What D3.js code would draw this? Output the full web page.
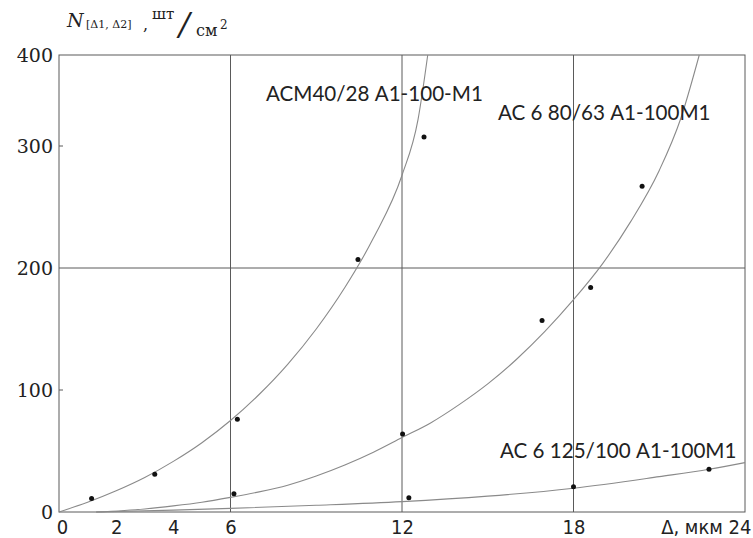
<!DOCTYPE html>
<html>
<head>
<meta charset="utf-8">
<script src="https://cdn.jsdelivr.net/npm/d3@7"></script>
<style>
  html, body { margin: 0; padding: 0; background: #fff; }
  svg { display: block; }
</style>
</head>
<body>
<svg id="chart" width="753" height="538"></svg>
<script>
// Axis ticks
const xTickValues = [0, 2, 4, 6, 12, 18, 24];
const xGridValues = [6, 12, 18];
const yTickValues = [0, 100, 200, 300, 400];
const yGridValues = [200];

// Series names
const seriesNames = ["АСМ40/28 А1-100-М1", "АС 6 80/63 А1-100М1", "АС 6 125/100 А1-100М1"];

// Measured points (Δ, мкм ; N, шт/см²)
const ptsDelta1 = [1.14, 3.35, 6.24, 10.46, 12.77];
const ptsN1     = [11, 31, 76, 207, 310];
const ptsDelta2 = [6.12, 12.02, 16.9, 18.6, 20.4];
const ptsN2     = [15, 64, 157, 184, 267];
const ptsDelta3 = [12.24, 18.0, 22.74];
const ptsN3     = [11.7, 20.7, 35];

// Approximating curves
const fitDelta1 = [0, 1, 2, 3, 4, 5, 6, 7, 8, 9, 10, 11, 12, 12.56, 12.9];
const fitN1     = [0, 8, 17.4, 28.3, 41.5, 56.8, 75, 96.3, 121, 150, 184, 224.5, 276, 329, 400];
const fitDelta2 = [1.3, 3, 4, 5, 6, 7, 8, 9, 10, 11, 12, 13, 14, 15, 16, 17, 18, 19, 20, 21, 21.75, 22.4];
const fitN2     = [0, 2.5, 5, 8, 12, 16.5, 22, 29.5, 38.5, 49, 61, 73, 88, 105, 125, 148, 174, 203, 238, 280, 330, 400];
const fitDelta3 = [1.3, 4, 6, 9, 12, 15, 18, 21, 22.74, 24];
const fitN3     = [0, 1.5, 3, 5.5, 8.5, 13, 19.5, 29, 35, 40.5];

const svg = d3.select("#chart");

const x = d3.scaleLinear().domain([0, 24]).range([59, 745]);
const y = d3.scaleLinear().domain([0, 300, 400]).range([512, 146, 55]);

const gridColor = "#5a5a5a";
const curveColor = "#8a8a8a";
const textColor = "#222";

// Grid lines
svg.append("g").selectAll("line").data(xGridValues).join("line")
  .attr("x1", d => x(d)).attr("x2", d => x(d))
  .attr("y1", y(0)).attr("y2", y(400))
  .attr("stroke", gridColor).attr("stroke-width", 1);
svg.append("g").selectAll("line").data(yGridValues).join("line")
  .attr("x1", x(0)).attr("x2", x(24))
  .attr("y1", d => y(d)).attr("y2", d => y(d))
  .attr("stroke", gridColor).attr("stroke-width", 1);

// Frame
svg.append("rect")
  .attr("x", x(0)).attr("y", y(400))
  .attr("width", x(24) - x(0)).attr("height", y(0) - y(400))
  .attr("fill", "none").attr("stroke", gridColor).attr("stroke-width", 1);

// Y axis
const yAxis = d3.axisLeft(y).tickValues(yTickValues).tickSize(0).tickPadding(6);
const gy = svg.append("g").attr("transform", `translate(${x(0)},0)`).call(yAxis);
gy.select(".domain").remove();
gy.selectAll("text")
  .attr("font-family", "'DejaVu Serif', 'Liberation Serif', serif")
  .attr("font-size", 19).attr("fill", textColor);
// small inner ticks
svg.append("g").selectAll("line").data([100, 300]).join("line")
  .attr("x1", x(0)).attr("x2", x(0) + 4)
  .attr("y1", d => y(d)).attr("y2", d => y(d))
  .attr("stroke", gridColor);

// X axis
const xAxis = d3.axisBottom(x).tickValues(xTickValues).tickSize(0).tickPadding(8)
  .tickFormat(d => d === 24 ? "Δ, мкм  24" : d);
const gx = svg.append("g").attr("transform", `translate(0,${y(0)})`).call(xAxis);
gx.select(".domain").remove();
gx.selectAll("text")
  .attr("font-family", "'Liberation Sans Narrow', 'DejaVu Sans Condensed', sans-serif")
  .attr("font-size", 20).attr("fill", textColor);
gx.selectAll(".tick").filter(d => d === 24).select("text")
  .attr("text-anchor", "end").attr("x", 6);
gx.selectAll(".tick").filter(d => d === 0).select("text").attr("x", 3);

// Curves
const line = d3.line().x(d => x(d[0])).y(d => y(d[1])).curve(d3.curveMonotoneX);
const fits = [
  d3.zip(fitDelta1, fitN1),
  d3.zip(fitDelta2, fitN2),
  d3.zip(fitDelta3, fitN3)
];
svg.append("g").selectAll("path").data(fits).join("path")
  .attr("d", line)
  .attr("fill", "none").attr("stroke", curveColor).attr("stroke-width", 1.1);

// Points
const pts = [
  ...d3.zip(ptsDelta1, ptsN1),
  ...d3.zip(ptsDelta2, ptsN2),
  ...d3.zip(ptsDelta3, ptsN3)
];
svg.append("g").selectAll("circle").data(pts).join("circle")
  .attr("cx", d => x(d[0])).attr("cy", d => y(d[1]))
  .attr("r", 2.5).attr("fill", "#111");

// Series labels
const labelPos = [[266, 101], [498, 120], [500, 458]];
svg.append("g").selectAll("text").data(seriesNames).join("text")
  .attr("x", (d, i) => labelPos[i][0]).attr("y", (d, i) => labelPos[i][1])
  .attr("font-family", "Lato, 'Open Sans', sans-serif")
  .attr("font-size", 20.6).attr("fill", textColor)
  .text(d => d);

// Y axis title: N[Δ1, Δ2] , шт/см²
const serif = "'DejaVu Serif', 'Liberation Serif', serif";
const title = svg.append("g").attr("fill", textColor).attr("font-family", serif);
title.append("text").attr("x", 67).attr("y", 27).attr("font-size", 19)
  .attr("font-style", "italic").text("N");
title.append("text").attr("x", 86).attr("y", 28).attr("font-size", 11).text("[Δ1, Δ2]");
title.append("text").attr("x", 143).attr("y", 30).attr("font-size", 16).text(",");
title.append("text").attr("x", 152).attr("y", 19).attr("font-size", 15).text("шт");
title.append("text").attr("x", 179).attr("y", 35).attr("font-size", 32)
  .attr("font-style", "italic").text("/");
title.append("text").attr("x", 196).attr("y", 36).attr("font-size", 16).text("см");
title.append("text").attr("x", 220).attr("y", 29).attr("font-size", 12).text("2");
</script>
</body>
</html>
